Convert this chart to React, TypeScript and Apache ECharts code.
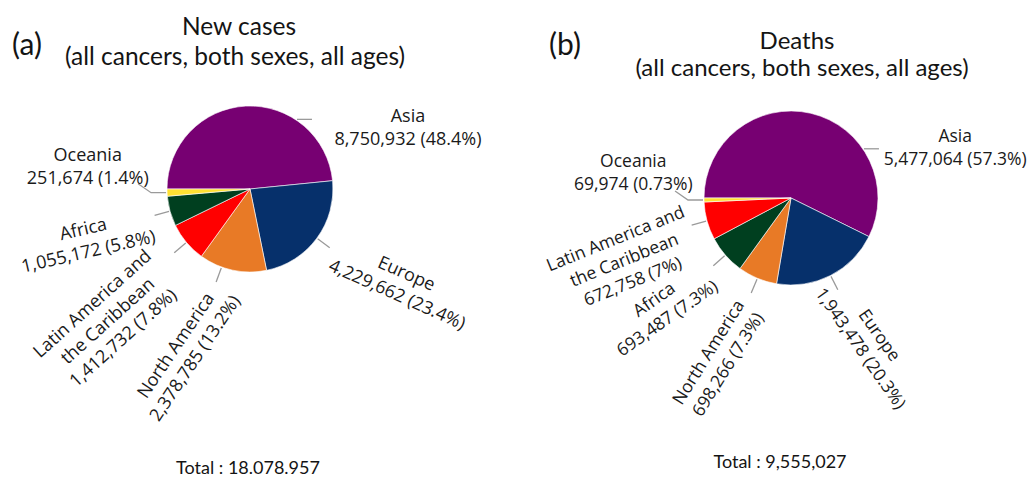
import React, { useEffect, useRef } from 'react';
import * as echarts from 'echarts';

// ---------- data ----------
const casesRegions = ['Asia', 'Europe', 'North America', 'Latin America and\nthe Caribbean', 'Africa', 'Oceania'];
const casesValues = [8750932, 4229662, 2378785, 1412732, 1055172, 251674];
const casesPct = ['48.4', '23.4', '13.2', '7.8', '5.8', '1.4'];

const deathsRegions = ['Asia', 'Europe', 'North America', 'Africa', 'Latin America and\nthe Caribbean', 'Oceania'];
const deathsValues = [5477064, 1943478, 698266, 693487, 672758, 69974];
const deathsPct = ['57.3', '20.3', '7.3', '7.3', '7', '0.73'];

const casesTitle = ['New cases', '(all cancers, both sexes, all ages)'];
const deathsTitle = ['Deaths', '(all cancers, both sexes, all ages)'];
const casesTotal = 'Total : 18.078.957';
const deathsTotal = 'Total : 9,555,027';

// ---------- styles / layout ----------
const regionColors: Record<string, string> = {
  Asia: '#770072',
  Europe: '#06306b',
  'North America': '#e87a26',
  'Latin America and\nthe Caribbean': '#ff0000',
  Africa: '#003f1f',
  Oceania: '#ffe033',
};

type LabelPos = { angle: number; dist: number; rotate: number; line: 'h' | 'r' | 'bent'; lineAngle?: number };

const casesPie = { cx: 250, cy: 189, r: 83, font: 18 };
const deathsPie = { cx: 791, cy: 198, r: 87, font: 17.5 };

const casesLabelPos: LabelPos[] = [
  { angle: 21.7, dist: 170, rotate: 0, line: 'h', lineAngle: 56 },
  { angle: -31.7, dist: 179, rotate: -24, line: 'r' },
  { angle: -112, dist: 175, rotate: 56, line: 'r', lineAngle: -110 },
  { angle: -137.5, dist: 194, rotate: 42, line: 'r' },
  { angle: -163, dist: 172, rotate: 13, line: 'r' },
  { angle: 171.6, dist: 164, rotate: 0, line: 'bent' },
];
const deathsLabelPos: LabelPos[] = [
  { angle: 17.3, dist: 172, rotate: 0, line: 'h', lineAngle: 34 },
  { angle: -60.8, dist: 164, rotate: -55, line: 'r' },
  { angle: -114.8, dist: 176, rotate: 58, line: 'r' },
  { angle: -140, dist: 171, rotate: 35, line: 'r' },
  { angle: -160, dist: 178, rotate: 22, line: 'r' },
  { angle: 170.3, dist: 160, rotate: 0, line: 'bent' },
];

const RAD = Math.PI / 180;

function midAngles(values: number[], start: number): number[] {
  const total = values.reduce((a, b) => a + b, 0);
  let cum = 0;
  return values.map((v) => {
    const a0 = start - (360 * cum) / total;
    cum += v;
    const a1 = start - (360 * cum) / total;
    return (a0 + a1) / 2;
  });
}

function polar(cx: number, cy: number, r: number, deg: number): number[] {
  return [cx + r * Math.cos(deg * RAD), cy - r * Math.sin(deg * RAD)];
}

function makeSeries(
  regions: string[],
  values: number[],
  pct: string[],
  geo: { cx: number; cy: number; r: number; font: number },
  pos: LabelPos[]
) {
  const mids = midAngles(values, 180);
  return {
    type: 'pie',
    center: [geo.cx, geo.cy],
    radius: geo.r,
    startAngle: 180,
    clockwise: true,
    avoidLabelOverlap: false,
    data: regions.map((name, i) => ({
      name,
      value: values[i],
      itemStyle: { color: regionColors[name] },
    })),
    itemStyle: { borderColor: 'rgba(255,255,255,0.75)', borderWidth: 0.8 },
    label: {
      show: true,
      position: 'outside',
      fontFamily: 'Open Sans',
      fontSize: geo.font,
      lineHeight: 23,
      color: '#1a1a1a',
      formatter: (p: any) => `${p.name}\n${Number(p.value).toLocaleString('en-US')} (${pct[p.dataIndex]}%)`,
    },
    labelLine: { show: true, length: 10, length2: 5, smooth: false, lineStyle: { color: '#9a9a9a', width: 1.3 } },
    labelLayout: (params: any) => {
      const i = params.dataIndex;
      const lp = pos[i];
      const [x, y] = polar(geo.cx, geo.cy, lp.dist, lp.angle);
      const la = lp.lineAngle != null ? lp.lineAngle : mids[i];
      let pts: number[][];
      if (lp.line === 'h') {
        const s = polar(geo.cx, geo.cy, geo.r + 1, la);
        pts = [s, [s[0] + 15, s[1]]];
      } else if (lp.line === 'bent') {
        const s = polar(geo.cx, geo.cy, geo.r + 1, la);
        pts = [s, [s[0] - 15, s[1]], [s[0] - 28, s[1] - 9]];
      } else {
        pts = [polar(geo.cx, geo.cy, geo.r + 1, la), polar(geo.cx, geo.cy, geo.r + 16, la)];
      }
      return { x, y, rotate: lp.rotate, align: 'center', verticalAlign: 'middle', labelLinePoints: pts };
    },
  };
}

function txt(text: string, x: number, y: number, size: number, family = 'Lato') {
  return {
    type: 'text',
    x,
    y,
    silent: true,
    style: { text, fill: '#141414', font: `${size}px "${family}"`, align: 'center', verticalAlign: 'middle' },
  };
}

export default function App() {
  const ref = useRef<HTMLDivElement>(null);
  useEffect(() => {
    document.body.style.margin = '0';
    if (!ref.current) return;
    const chart = echarts.init(ref.current, undefined, { renderer: 'svg' });
    chart.setOption({
      animation: false,
      backgroundColor: '#ffffff',
      series: [
        makeSeries(casesRegions, casesValues, casesPct, casesPie, casesLabelPos),
        makeSeries(deathsRegions, deathsValues, deathsPct, deathsPie, deathsLabelPos),
      ],
      graphic: [
        txt('(a)', 27, 43, 30),
        txt('(b)', 565, 43, 30),
        txt(casesTitle[0], 239, 25, 24.5),
        txt(casesTitle[1], 235, 55, 24.5),
        txt(deathsTitle[0], 797, 39, 24),
        txt(deathsTitle[1], 802, 66, 24),
        txt(casesTotal, 248, 467, 18),
        txt(deathsTotal, 780, 461, 18),
      ],
    });
    return () => chart.dispose();
  }, []);
  return <div ref={ref} style={{ width: 1033, height: 478 }} />;
}
